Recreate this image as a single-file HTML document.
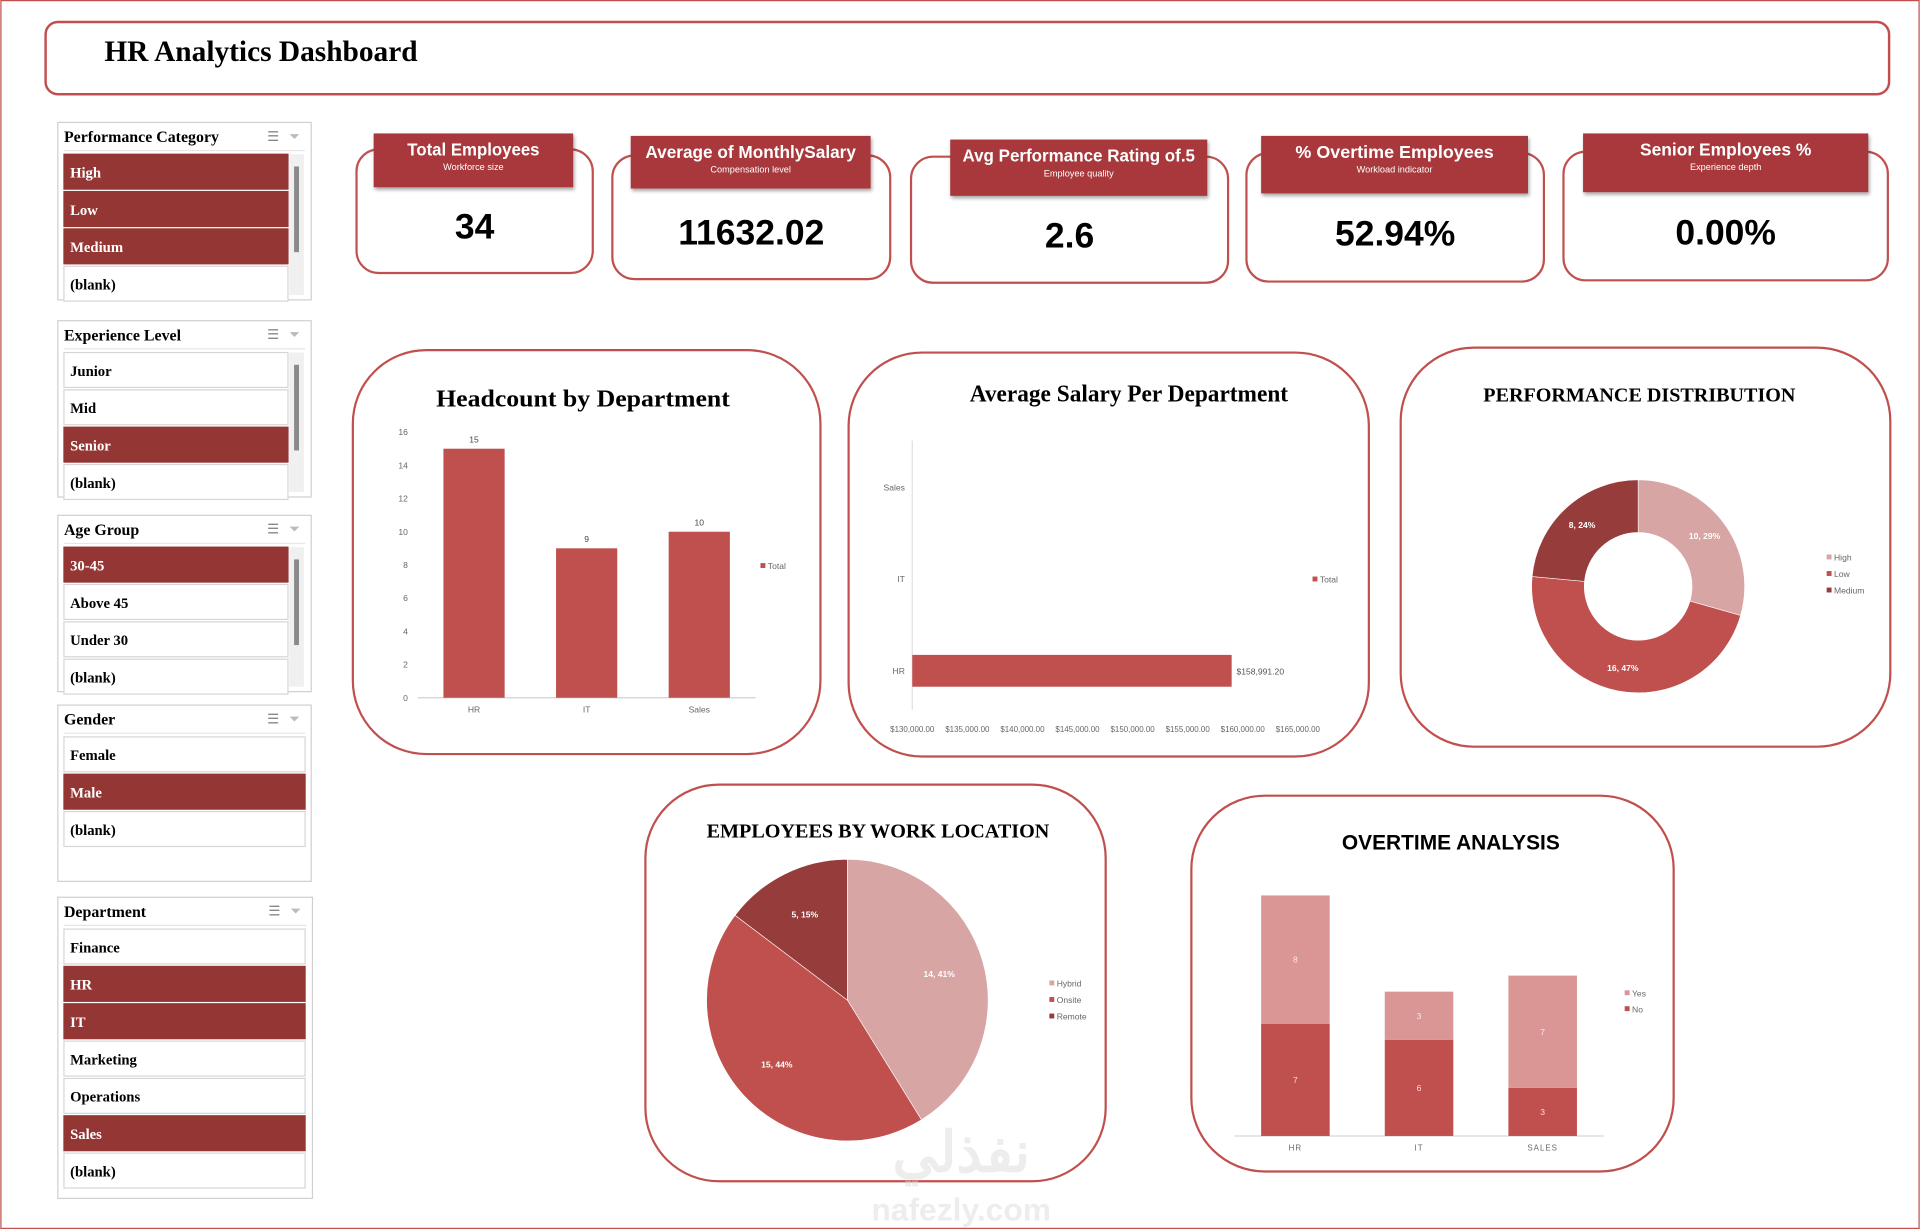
<!DOCTYPE html>
<html><head><meta charset="utf-8">
<style>
html,body{margin:0;padding:0;background:#fff;}
svg{display:block;}
.serif{font-family:"Liberation Serif",serif;}
.sans{font-family:"Liberation Sans",sans-serif;}
</style></head>
<body>
<svg id="root" width="1920" height="1229" viewBox="0 0 1568 1004" xmlns="http://www.w3.org/2000/svg">
<defs>
<filter id="sh" x="-10%" y="-10%" width="130%" height="140%"><feDropShadow dx="1" dy="2" stdDeviation="1.5" flood-color="#000" flood-opacity="0.35"/></filter>
</defs>
<rect x="0.5" y="0.5" width="1567" height="1003" fill="#fff" stroke="#c0504d" stroke-width="1"/>
<g>
<rect x="37" y="18" width="1506" height="59" rx="10" fill="#fff" stroke="#c0504d" stroke-width="2"/>
<text x="85" y="50" class="serif" font-size="24" font-weight="bold" fill="#000">HR Analytics Dashboard</text>
</g>
<g id="slicers"></g>
<g id="kpis"></g>
<g id="charts"></g>
<g opacity="0.45">
<text x="785" y="957" text-anchor="middle" font-size="46" font-weight="bold" fill="#d8d8d8" class="sans">نفذلي</text>
<text x="785" y="997" text-anchor="middle" font-size="26" font-weight="bold" fill="#d8d8d8" class="sans">nafezly.com</text>
</g>
</svg>
<script>
const NS="http://www.w3.org/2000/svg";
function mk(parent,tag,attrs,text){const e=document.createElementNS(NS,tag);for(const k in attrs)e.setAttribute(k,attrs[k]);if(text!==undefined)e.textContent=text;parent.appendChild(e);return e;}
const SEL="#943634", RED="#c0504d", LIGHT="#d6a5a4", DARK="#963c3b", YES="#d99694";

// ---------- slicers ----------
const slicerTitles=["Performance Category","Experience Level","Age Group","Gender","Department"];
const slicerItems=[["High","Low","Medium","(blank)"],["Junior","Mid","Senior","(blank)"],["30-45","Above 45","Under 30","(blank)"],["Female","Male","(blank)"],["Finance","HR","IT","Marketing","Operations","Sales","(blank)"]];
const slicerSelected=[["High","Low","Medium"],["Senior"],["30-45"],["Male"],["HR","IT","Sales"]];
const slicerBox=[[47,100,207,145,true],[47,262,207,144,true],[47,421,207,144,true],[47,576,207,144,false],[47,733,208,246,false]];
const sg=document.getElementById('slicers');
slicerTitles.forEach((t,i)=>{
  const [x,y,w,h,scroll]=slicerBox[i];
  const g=mk(sg,'g',{});
  
  
  mk(g,'rect',{x,y,width:w,height:h,fill:'#fff',stroke:'#d0d0d0','stroke-width':1});
  const tt=mk(g,'text',{x:x+5,y:y+16,'font-size':13,'font-weight':'bold',class:'serif',fill:'#000'},t);
  
  
  const ic=mk(g,'text',{x:x+w-36,y:y+15,'font-size':11,fill:'#888',class:'sans'},'☰');
  
  
  const fi=mk(g,'text',{x:x+w-18,y:y+15,'font-size':11,fill:'#bbb',class:'sans'},'⏷');
  
  
  mk(g,'line',{x1:x+5,y1:y+23,x2:x+w-5,y2:y+23,stroke:'#e6e6e6'});
  const iw=scroll?183:197;
  slicerItems[i].forEach((it,j)=>{
    const iy=y+26+j*30.5;
    const sel=slicerSelected[i].includes(it);
    const ig=mk(g,'g',{});
    
    
    mk(ig,'rect',{x:x+5,y:iy,width:iw,height:28.5,fill:sel?SEL:'#fff',stroke:sel?SEL:'#d6d6d6'});
    mk(ig,'text',{x:x+10,y:iy+19,'font-size':12,'font-weight':'bold',class:'serif',fill:sel?'#fff':'#000'},it);
  });
  if(scroll){
    const sb=mk(g,'rect',{x:x+w-18,y:y+26,width:12,height:h-30,fill:'#f0f0f0'});
    
    
    mk(g,'rect',{x:x+w-14,y:y+36,width:4,height:70,fill:'#8a8a8a'});
  }
});

// ---------- KPI cards ----------
const kpiTitles=["Total Employees","Average of MonthlySalary","Avg Performance Rating of.5","% Overtime Employees","Senior Employees %"];
const kpiSubs=["Workforce size","Compensation level","Employee quality","Workload indicator","Experience depth"];
const kpiValues=["34","11632.02","2.6","52.94%","0.00%"];
const kpiBox=[[291,122,193,101,305,109,163,44,108],[500,127,227,101,515,111,196,43,172],[744,128,259,103,776,114,210,46,190],[1018,125,243,105,1030,111,218,47,162],[1277,124,265,105,1293,109,233,48,140]];
const kg=document.getElementById('kpis');
kpiTitles.forEach((t,i)=>{
  const [x,y,w,h,hx,hy,hw,hh,tl]=kpiBox[i];
  const g=mk(kg,'g',{});
  
  
  mk(g,'rect',{x,y,width:w,height:h,rx:18,fill:'#fff',stroke:RED,'stroke-width':1.8});
  mk(g,'rect',{x:hx,y:hy,width:hw,height:hh,fill:'#a8393a',filter:'url(#sh)'});
  const tt=mk(g,'text',{x:hx+hw/2,y:hy+18,'text-anchor':'middle','font-size':14,'font-weight':'bold',class:'sans',fill:'#fff',textLength:tl,lengthAdjust:'spacingAndGlyphs'},t);
  
  
  mk(g,'text',{x:hx+hw/2,y:hy+30,'text-anchor':'middle','font-size':7.5,class:'sans',fill:'#fff'},kpiSubs[i]);
  const v=mk(g,'text',{x:x+w/2,y:y+h*0.72,'text-anchor':'middle','font-size':29,'font-weight':'bold',class:'sans',fill:'#000'},kpiValues[i]);
  
  
});

// ---------- chart data ----------
const hcCategories=["HR","IT","Sales"];
const hcValues=[15,9,10];
const hcTicks=[0,2,4,6,8,10,12,14,16];
const salCategories=["HR","IT","Sales"];
const salValues=[158991.20,null,null];
const salTicks=[130000,135000,140000,145000,150000,155000,160000,165000];
const perfCategories=["High","Low","Medium"];
const perfValues=[10,16,8];
const locCategories=["Hybrid","Onsite","Remote"];
const locValues=[14,15,5];
const otCategories=["HR","IT","SALES"];
const otNo=[7,6,3];
const otYes=[8,3,7];

const cg=document.getElementById('charts');
function card(name,x,y,w,h,title,tx,ty,fs,tl){
  const g=mk(cg,'g',{});
  
  
  mk(g,'rect',{x,y,width:w,height:h,rx:60,fill:'#fff',stroke:RED,'stroke-width':1.8});
  const a={x:tx,y:ty,'text-anchor':'middle','font-size':fs,'font-weight':'bold',class:'serif',fill:'#000'};
  if(tl){a.textLength=tl;a.lengthAdjust='spacingAndGlyphs';}
  const t=mk(g,'text',a,title);
  
  
  return g;
}
function legend(g,x,y,items,colors,dy){
  items.forEach((it,i)=>{
    const lg=mk(g,'g',{});
    
    
    mk(lg,'rect',{x,y:y+i*dy-5,width:4,height:4,fill:colors[i]});
    mk(lg,'text',{x:x+6,y:y+i*dy,'font-size':7,class:'sans',fill:'#666'},it);
  });
}

// Headcount
(function(){
  const g=card('headcount-chart',288,286,382,330,'Headcount by Department',476,332,20,240);
  const y0=570,y1=353,vmax=16;
  const Y=v=>y0-(y0-y1)*v/vmax;
  const X=i=>387+i*92;
  hcTicks.forEach(t=>{mk(g,'text',{x:333,y:Y(t)+2.5,'text-anchor':'end','font-size':7,class:'sans',fill:'#666'},t);});
  mk(g,'line',{x1:341,y1:y0,x2:617,y2:y0,stroke:'#d0d0d0','stroke-width':1});
  hcValues.forEach((v,i)=>{
    const b=mk(g,'rect',{x:X(i)-25,y:Y(v),width:50,height:y0-Y(v),fill:RED});
    
    
    mk(g,'text',{x:X(i),y:Y(v)-5,'text-anchor':'middle','font-size':7,class:'sans',fill:'#444'},v);
    mk(g,'text',{x:X(i),y:582,'text-anchor':'middle','font-size':7,class:'sans',fill:'#666'},hcCategories[i]);
  });
  legend(g,621,465,["Total"],[RED],13);
})();

// Salary
(function(){
  const g=card('avg-salary-chart',693,288,425,330,'Average Salary Per Department',922,328,20,260);
  const x0=745,x1=1060,vmin=130000,vmax=165000;
  const X=v=>x0+(x1-x0)*(v-vmin)/(vmax-vmin);
  const Y=i=>548-i*75;
  salTicks.forEach(t=>{mk(g,'text',{x:X(t),y:598,'text-anchor':'middle','font-size':6.5,class:'sans',fill:'#666'},'$'+t.toLocaleString('en-US')+'.00');});
  mk(g,'line',{x1:x0,y1:360,x2:x0,y2:580,stroke:'#e0e0e0'});
  salCategories.forEach((c,i)=>{
    mk(g,'text',{x:739,y:Y(i)+2.5,'text-anchor':'end','font-size':7,class:'sans',fill:'#666'},c);
    const v=salValues[i];
    if(v!==null){
      const b=mk(g,'rect',{x:x0,y:Y(i)-13,width:X(v)-x0,height:26,fill:RED});
      
      
      mk(g,'text',{x:X(v)+4,y:Y(i)+3,'font-size':7,class:'sans',fill:'#555'},'$'+v.toLocaleString('en-US',{minimumFractionDigits:2}));
    }
  });
  legend(g,1072,476,["Total"],[RED],13);
})();

function arcPath(cx,cy,r0,r1,a0,a1){
  const p=(r,a)=>[cx+r*Math.sin(a),cy-r*Math.cos(a)];
  const large=(a1-a0)>Math.PI?1:0;
  const [x1,y1]=p(r1,a0),[x2,y2]=p(r1,a1);
  if(r0===0) return `M${cx},${cy}L${x1},${y1}A${r1},${r1} 0 ${large} 1 ${x2},${y2}Z`;
  const [x3,y3]=p(r0,a1),[x4,y4]=p(r0,a0);
  return `M${x1},${y1}A${r1},${r1} 0 ${large} 1 ${x2},${y2}L${x3},${y3}A${r0},${r0} 0 ${large} 0 ${x4},${y4}Z`;
}
function ring(g,cx,cy,r0,r1,vals,cats,colors,labelR){
  const tot=vals.reduce((a,b)=>a+b,0);let a=0;
  vals.forEach((v,i)=>{
    const a1=a+2*Math.PI*v/tot;
    const s=mk(g,'path',{d:arcPath(cx,cy,r0,r1,a,a1),fill:colors[i],stroke:'#fff','stroke-width':0.5});
    
    
    const m=(a+a1)/2;
    mk(g,'text',{x:cx+labelR*Math.sin(m),y:cy-labelR*Math.cos(m)+2.5,'text-anchor':'middle','font-size':7,'font-weight':'bold',class:'sans',fill:'#fff'},v+', '+Math.round(100*v/tot)+'%');
    a=a1;
  });
}
// Performance donut
(function(){
  const g=card('performance-distribution-chart',1144,284,400,326,'PERFORMANCE DISTRIBUTION',1339,328,16,255);
  ring(g,1338,479,44,87,perfValues,perfCategories,[LIGHT,RED,DARK],68);
  legend(g,1492,458,perfCategories,[LIGHT,RED,DARK],13.5);
})();
// Work location pie
(function(){
  const g=card('work-location-chart',527,641,376,324,'EMPLOYEES BY WORK LOCATION',717,684,16,280);
  ring(g,692,817,0,115,locValues,locCategories,[LIGHT,RED,DARK],78);
  legend(g,857,806,locCategories,[LIGHT,RED,DARK],13.5);
})();
// Overtime stacked
(function(){
  const g=card('overtime-analysis-chart',973,650,394,307,'OVERTIME ANALYSIS',1185,694,17,178);
  g.lastChild.setAttribute('class','sans');
  const y0=928,k=13.1;
  const X=i=>1058+i*101;
  mk(g,'line',{x1:1008,y1:y0,x2:1310,y2:y0,stroke:'#d8d8d8'});
  otCategories.forEach((c,i)=>{
    const hn=otNo[i]*k, hy=otYes[i]*k;
    const bn=mk(g,'rect',{x:X(i)-28,y:y0-hn,width:56,height:hn,fill:RED});
    
    
    const by=mk(g,'rect',{x:X(i)-28,y:y0-hn-hy,width:56,height:hy,fill:YES});
    
    
    mk(g,'text',{x:X(i),y:y0-hn/2+2.5,'text-anchor':'middle','font-size':7,class:'sans',fill:'#f4dede'},otNo[i]);
    mk(g,'text',{x:X(i),y:y0-hn-hy/2+2.5,'text-anchor':'middle','font-size':7,class:'sans',fill:'#f8eaea'},otYes[i]);
    mk(g,'text',{x:X(i),y:940,'text-anchor':'middle','font-size':6.5,class:'sans',fill:'#666','letter-spacing':0.8},c);
  });
  legend(g,1327,814,["Yes","No"],[YES,RED],13);
})();
</script>
</body></html>
